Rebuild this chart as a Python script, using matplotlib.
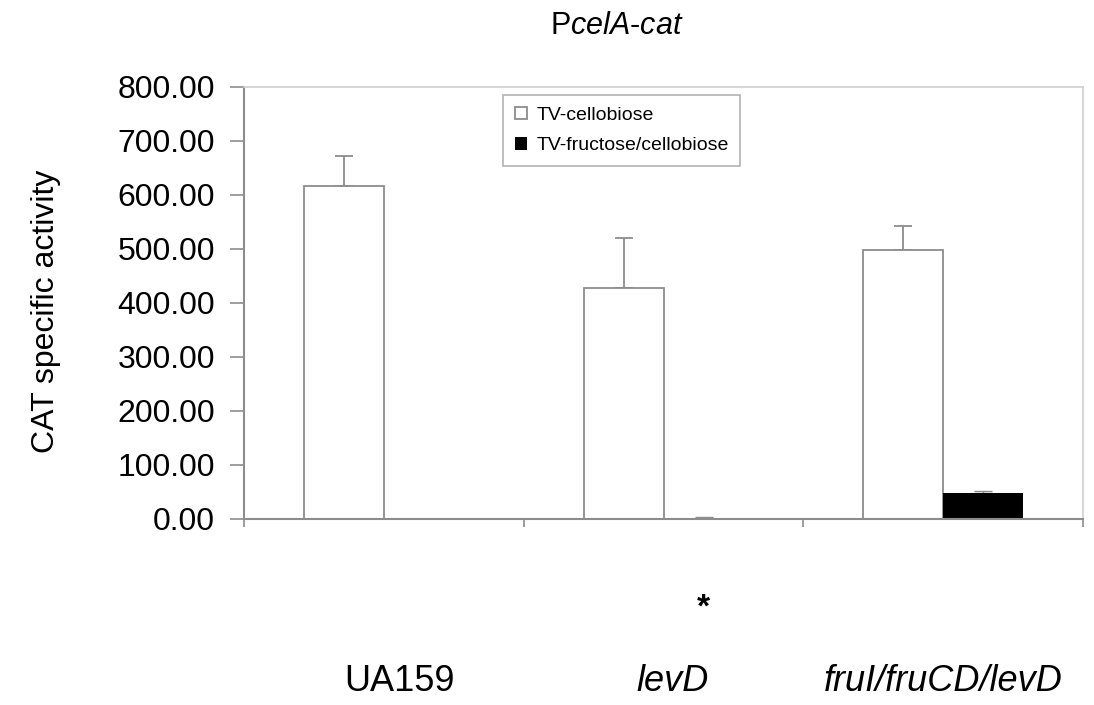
import matplotlib
matplotlib.use('Agg')
import matplotlib.pyplot as plt
import matplotlib.transforms as mtransforms
import numpy as np

# Data
strains = ['UA159', 'levD', 'fruI/fruCD/levD']
strain_italic = [False, True, True]
cellobiose = [617, 428, 498]
cellobiose_err = [55, 92, 45]
fructose = [0, 0.5, 48]
fructose_err = [0, 2.5, 4]
yticks = [0, 100, 200, 300, 400, 500, 600, 700, 800]

plt.rcParams['font.family'] = ['Liberation Sans', 'DejaVu Sans']
plt.rcParams['mathtext.fontset'] = 'custom'
plt.rcParams['mathtext.rm'] = 'Liberation Sans'
plt.rcParams['mathtext.it'] = 'Liberation Sans:italic'

edge = '#8c8c8c'

fig = plt.figure(figsize=(10.94, 7.05), dpi=100)
ax = fig.add_axes([0.223, 0.264, 0.767, 0.613])

x = np.arange(len(strains))
w = 0.286

ax.bar(x - w / 2, cellobiose, w, color='white', edgecolor=edge, linewidth=1.3,
       label='TV-cellobiose', zorder=2)
ax.bar(x + w / 2, fructose, w, color='black', linewidth=0,
       label='TV-fructose/cellobiose', zorder=2)

# upward-only error bars
ax.errorbar(x - w / 2, cellobiose, yerr=[np.zeros(3), cellobiose_err], fmt='none',
            ecolor=edge, elinewidth=1.3, capsize=6.5, capthick=1.3, zorder=1)
ax.errorbar(x + w / 2, fructose, yerr=[np.zeros(3), fructose_err], fmt='none',
            ecolor=edge, elinewidth=1.0, capsize=6.5, capthick=1.0, zorder=1)

ax.set_xlim(-0.5, 2.5)
ax.set_ylim(0, 800)
ax.set_yticks(yticks)
ax.set_yticklabels(['%.2f' % v for v in yticks], fontsize=23)
ax.set_xticks([-0.5, 0.5, 1.5, 2.5])
ax.set_xticklabels([])
ax.tick_params(axis='y', length=10, width=1.2, color=edge, pad=11)
ax.tick_params(axis='x', length=6, width=1.2, color=edge)

for side in ['left', 'bottom']:
    ax.spines[side].set_color(edge)
    ax.spines[side].set_linewidth(1.5)
for side in ['top', 'right']:
    ax.spines[side].set_color('#d0d0d0')
    ax.spines[side].set_linewidth(1.2)

ax.set_ylabel('CAT specific activity', fontsize=23)
ax.yaxis.set_label_coords(-0.218, 0.48)

fig.text(0.564, 0.952, r'P$\mathit{celA}$-$\mathit{cat}$', fontsize=22,
         ha='center', va='baseline')

# category labels and asterisk below the axis (small pixel nudges as in the original)
label_shift_px = [16, 9, 0]
trans = mtransforms.blended_transform_factory(ax.transData, fig.transFigure)
for xi, name, it, dx in zip(x, strains, strain_italic, label_shift_px):
    t = trans + mtransforms.Affine2D().translate(dx, 0)
    ax.text(xi, 0.033, name, transform=t, ha='center', va='center',
            fontsize=26, style='italic' if it else 'normal')
ax.text(x[1] + w / 2, 0.137, '*', transform=trans, ha='center', va='center',
        fontsize=24, fontweight='bold')

leg = ax.legend(loc='upper left', bbox_to_anchor=(0.309, 0.981), borderaxespad=0,
                fontsize=14, fancybox=False, frameon=True, handlelength=0.6,
                handleheight=0.6, handletextpad=0.5, labelspacing=0.7,
                borderpad=0.6)
leg.get_frame().set_edgecolor('#a0a0a0')
leg.get_frame().set_linewidth(1.2)
for h in leg.legend_handles:
    h.set_edgecolor(edge)

fig.savefig('out.png', dpi=100)
